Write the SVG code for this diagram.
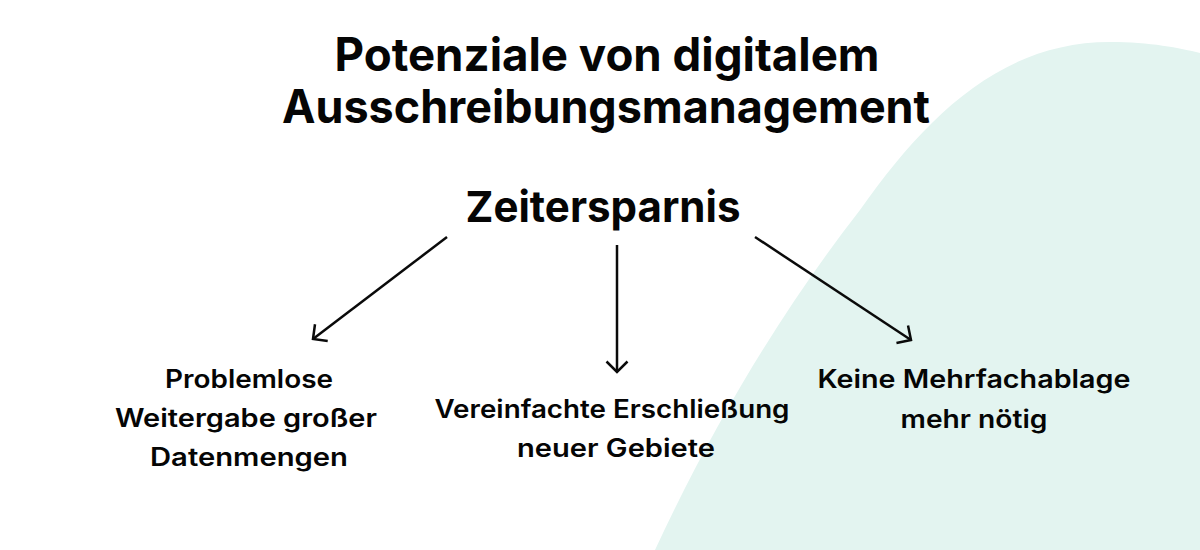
<svg xmlns="http://www.w3.org/2000/svg" width="1200" height="550" viewBox="0 0 1200 550">
  <defs>
    <style>
      .t { font-family: Inter, "Noto Sans", "Liberation Sans", sans-serif; fill: #050505; text-anchor: middle; }
      .title { font-size: 46px; font-weight: 700; }
      .main { font-size: 43px; font-weight: 700; }
      .lbl { font-size: 25px; font-weight: 600; }
      .conn { stroke: #0a0a0a; stroke-width: 2.5; fill: none; }
    </style>
    <marker id="arrow" markerUnits="userSpaceOnUse" viewBox="-14 -14 16 28" markerWidth="16" markerHeight="28" refX="0" refY="0" orient="auto">
      <path d="M-10.5,-10.5 L0,0 L-10.5,10.5" fill="none" stroke="#0a0a0a" stroke-width="2.5"/>
    </marker>
  </defs>
  <rect x="0" y="0" width="1200" height="550" fill="#ffffff"/>
  <path id="bg-hill" d="M655,550 C720,410 790,300 860,210 C925,118 1000,42 1110,42 C1150,42 1180,48 1200,53 L1200,550 Z" fill="#e3f4f0"/>

  <g id="title">
    <text class="t title" x="607" y="71" textLength="545" lengthAdjust="spacingAndGlyphs">Potenziale von digitalem</text>
    <text class="t title" x="606" y="123" textLength="648" lengthAdjust="spacingAndGlyphs">Ausschreibungsmanagement</text>
  </g>

  <g id="node-zeitersparnis">
    <text class="t main" x="603" y="222" textLength="275" lengthAdjust="spacingAndGlyphs">Zeitersparnis</text>
  </g>

  <g id="connectors">
    <line class="conn" x1="447" y1="237" x2="313" y2="339" marker-end="url(#arrow)"/>
    <line class="conn" x1="617" y1="245" x2="617" y2="372" marker-end="url(#arrow)"/>
    <line class="conn" x1="755" y1="237" x2="911" y2="340" marker-end="url(#arrow)"/>
  </g>

  <g id="node-left">
    <text class="t lbl" x="249" y="388" textLength="168" lengthAdjust="spacingAndGlyphs">Problemlose</text>
    <text class="t lbl" x="246" y="427" textLength="262" lengthAdjust="spacingAndGlyphs">Weitergabe großer</text>
    <text class="t lbl" x="249" y="466" textLength="198" lengthAdjust="spacingAndGlyphs">Datenmengen</text>
  </g>

  <g id="node-middle">
    <text class="t lbl" x="612" y="418" textLength="355" lengthAdjust="spacingAndGlyphs">Vereinfachte Erschließung</text>
    <text class="t lbl" x="616" y="457" textLength="198" lengthAdjust="spacingAndGlyphs">neuer Gebiete</text>
  </g>

  <g id="node-right">
    <text class="t lbl" x="974" y="388" textLength="313" lengthAdjust="spacingAndGlyphs">Keine Mehrfachablage</text>
    <text class="t lbl" x="974" y="428" textLength="147" lengthAdjust="spacingAndGlyphs">mehr nötig</text>
  </g>
</svg>
